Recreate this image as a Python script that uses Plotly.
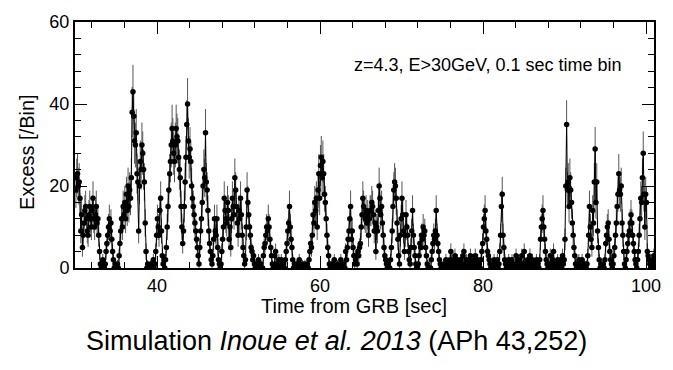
import numpy as np
import plotly.graph_objects as go

# ---- data: excess counts per 0.1 s bin ----
bin_start = 30.0
bin_width = 0.1

excess_30s = [
    19, 22, 23, 20, 21, 17, 9, 13, 5, 8,
    11, 14, 15, 12, 9, 8, 13, 15, 12, 10,
    14, 17, 12, 10, 13, 15, 11, 12, 8, 4,
    1, 0, 0, 2, 0, 0, 1, 4, 6, 8,
    10, 12, 9, 11, 7, 4, 2, 0, 1, 0,
    0, 1, 0, 3, 6, 9, 12, 10, 15, 13,
    16, 12, 18, 14, 20, 15, 19, 17, 22, 38,
    43, 37, 31, 30, 33, 23, 21, 9, 20, 26,
    24, 30, 28, 24, 21, 11, 4, 0, 1, 0,
    0, 0, 1, 0, 0, 2, 0, 1, 4, 8,
]
excess_40s = [
    12, 10, 8, 14, 17, 9, 3, 1, 2, 0,
    2, 5, 10, 15, 19, 23, 26, 30, 34, 31,
    28, 26, 30, 34, 32, 31, 27, 24, 22, 15,
    10, 6, 9, 15, 21, 27, 35, 40, 31, 27,
    29, 26, 20, 17, 15, 13, 11, 9, 7, 5,
    3, 1, 5, 9, 12, 16, 20, 24, 22, 33,
    21, 19, 14, 9, 6, 4, 2, 1, 3, 7,
    12, 9, 8, 12, 5, 2, 1, 0, 1, 4,
    7, 10, 17, 14, 12, 11, 16, 14, 7, 10,
    5, 12, 17, 15, 13, 22, 19, 15, 11, 8,
]
excess_50s = [
    14, 12, 17, 13, 8, 5, 3, 1, 2, 10,
    19, 16, 13, 10, 8, 5, 4, 2, 3, 1,
    0, 1, 0, 0, 2, 0, 0, 1, 0, 0,
    3, 5, 6, 8, 10, 9, 12, 10, 7, 5,
    3, 1, 0, 0, 3, 4, 1, 0, 0, 2,
    0, 0, 2, 1, 0, 1, 0, 2, 4, 6,
    9, 11, 15, 10, 7, 5, 2, 0, 1, 0,
    0, 1, 0, 0, 2, 1, 0, 0, 1, 0,
    0, 1, 0, 0, 1, 0, 2, 4, 6, 5,
    8, 13, 11, 16, 14, 17, 10, 19, 23, 17,
]
excess_60s = [
    25, 27, 22, 26, 23, 18, 16, 12, 8, 5,
    3, 1, 0, 0, 1, 0, 0, 2, 0, 0,
    0, 1, 0, 0, 0, 2, 0, 0, 1, 0,
    0, 4, 2, 5, 7, 9, 12, 15, 7, 9,
    5, 3, 1, 2, 3, 1, 4, 3, 5, 6,
    10, 13, 17, 15, 13, 12, 14, 11, 13, 8,
    12, 14, 14, 16, 15, 13, 9, 11, 4, 10,
    9, 14, 20, 17, 13, 15, 11, 8, 5, 3,
    2, 1, 0, 1, 0, 0, 2, 5, 9, 15,
    19, 21, 20, 17, 11, 7, 3, 1, 8, 12,
]
excess_70s = [
    17, 13, 9, 4, 8, 13, 10, 8, 4, 2,
    1, 5, 9, 14, 8, 5, 3, 1, 0, 0,
    1, 3, 6, 5, 8, 7, 10, 8, 9, 5,
    3, 1, 0, 0, 0, 0, 2, 4, 6, 8,
    7, 9, 14, 8, 6, 4, 2, 1, 0, 0,
    0, 1, 0, 0, 2, 0, 1, 0, 0, 2,
    4, 1, 0, 2, 0, 3, 1, 0, 2, 0,
    1, 0, 2, 0, 1, 3, 4, 1, 0, 2,
    0, 1, 0, 2, 3, 1, 0, 0, 2, 1,
    3, 0, 1, 2, 0, 1, 0, 2, 4, 6,
]
excess_80s = [
    10, 12, 14, 9, 7, 4, 3, 2, 1, 0,
    0, 1, 0, 2, 0, 0, 1, 2, 0, 1,
    4, 8, 15, 18, 8, 5, 2, 1, 0, 1,
    0, 2, 0, 1, 0, 2, 1, 0, 0, 1,
    3, 0, 1, 2, 0, 0, 1, 3, 0, 1,
    4, 0, 1, 0, 2, 1, 0, 3, 1, 0,
    2, 0, 1, 0, 1, 2, 0, 1, 0, 2,
    7, 10, 12, 14, 10, 7, 4, 2, 1, 0,
    1, 0, 3, 1, 0, 2, 4, 0, 1, 0,
    0, 2, 1, 0, 1, 2, 0, 3, 1, 2,
]
excess_90s = [
    7, 20, 35, 19, 21, 15, 22, 19, 16, 11,
    8, 5, 3, 1, 0, 1, 0, 2, 0, 1,
    0, 2, 0, 0, 1, 0, 0, 1, 3, 8,
    15, 10, 7, 5, 14, 11, 21, 29, 16, 21,
    9, 5, 2, 0, 1, 0, 0, 1, 0, 2,
    6, 8, 10, 11, 7, 4, 2, 1, 0, 1,
    3, 5, 8, 11, 15, 18, 23, 19, 18, 20,
    11, 8, 4, 1, 0, 2, 4, 6, 8, 9,
    11, 13, 11, 8, 6, 4, 2, 1, 0, 2,
    4, 8, 12, 17, 16, 22, 28, 18, 10, 18,
    16, 4, 3, 2, 1, 0, 1, 2, 0, 3,
]

x_ticks = [40, 60, 80, 100]
y_ticks = [0, 20, 40, 60]

excess = np.array(excess_30s + excess_40s + excess_50s + excess_60s
                  + excess_70s + excess_80s + excess_90s, dtype=float)
time = bin_start + bin_width * (np.arange(len(excess)) + 0.5)

# ---- figure ----
W, H = 673, 370
ML, MR, MT, MB = 75, 12, 17, 102
PW, PH = W - ML - MR, H - MT - MB
FONT = "Liberation Sans, Arial, Helvetica, sans-serif"


def px(x):
    return (x - ML) / PW


def py(y):
    return (H - MB - y) / PH


fig = go.Figure()
fig.add_trace(go.Scatter(
    x=time, y=excess,
    mode="lines+markers",
    line=dict(color="black", width=1),
    marker=dict(color="black", size=5.5, symbol="circle"),
    error_y=dict(type="sqrt", color="#555555", thickness=1, width=0),
    showlegend=False,
    cliponaxis=True,
))

axis_common = dict(
    showline=True, linecolor="black", linewidth=2, mirror="ticks",
    ticks="inside", ticklen=12, tickwidth=1, tickcolor="black",
    showgrid=False, zeroline=False,
    tickfont=dict(family=FONT, size=18, color="black"),
)

fig.update_xaxes(
    range=[29.94, 100.97], tickvals=x_ticks,
    minor=dict(ticks="inside", ticklen=6, tickcolor="black", dtick=4, tick0=0, showgrid=False),
    **axis_common,
)
fig.update_yaxes(
    range=[0, 60], tickvals=y_ticks,
    minor=dict(ticks="inside", ticklen=6, tickcolor="black", dtick=4, tick0=0, showgrid=False),
    **axis_common,
)

annotations = [
    dict(text="z=4.3, E&gt;30GeV, 0.1 sec time bin", x=px(355), y=py(61),
         xanchor="left", yanchor="middle", font=dict(size=18)),
    dict(text="Time from GRB [sec]", x=px(357), y=py(307),
         xanchor="center", yanchor="middle", font=dict(size=20)),
    dict(text="Excess [/Bin]", x=px(27), y=py(150), textangle=-90,
         xanchor="center", yanchor="middle", font=dict(size=20)),
    dict(text="Simulation <i>Inoue et al. 2013</i> (APh 43,252)", x=px(340), y=py(342),
         xanchor="center", yanchor="middle", font=dict(size=27)),
]
for a in annotations:
    a.update(xref="paper", yref="paper", showarrow=False)
    a["font"].update(family=FONT, color="black")

fig.update_layout(
    width=W, height=H,
    margin=dict(l=ML, r=MR, t=MT, b=MB),
    paper_bgcolor="white", plot_bgcolor="white",
    annotations=annotations,
    font=dict(family=FONT, color="black"),
)

fig.write_html("out.html")
